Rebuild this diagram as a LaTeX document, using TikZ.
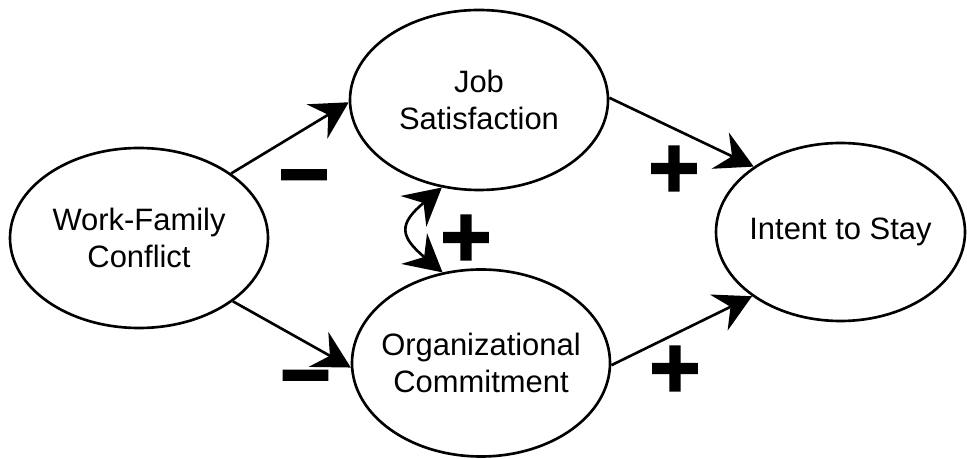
\documentclass[tikz,border=0pt]{standalone}
\usepackage{fontspec}
\setmainfont{Liberation Sans}
\newfontfamily\signfont[FakeBold=2]{Liberation Sans Bold}
\usepackage{tikz}
\usetikzlibrary{positioning,shapes.geometric,arrows.meta}

\begin{document}
\begin{tikzpicture}[
    >={Stealth[length=0.74cm, width=0.8cm, inset=0.26cm]},
    construct/.style={ellipse, draw, line width=1.5pt, minimum width=5.16cm, minimum height=3.6cm, inner xsep=-0.6cm, inner ysep=0pt, align=center, font=\fontsize{17.6}{21}\selectfont},
    link/.style={->, line width=1.5pt},
    sign/.style={inner sep=0pt, font=\signfont\fontsize{50}{50}\selectfont}
]
    \useasboundingbox (0,0) rectangle (19.34,9.18);

    % Constructs
    \node[construct] (wfc) at (2.78, 4.42) {Work-Family\\Conflict};
    \node[construct] (js) at (9.58, 7.18) {Job\\Satisfaction};
    \node[construct, minimum height=3.74cm] (org) at (9.62, 1.92) {Organizational\\Commitment};
    \node[construct, minimum width=4.98cm, minimum height=3.56cm] (intent) at (16.81, 4.54) {Intent to Stay};

    % Paths
    \draw[link] (wfc.35) -- (js.181);
    \draw[link] (wfc.-34) -- (org.182);
    \draw[link] (js.1) -- (intent.143);
    \draw[link] (org.-1) -- (intent.216);
    \draw[<->, line width=1.5pt] (js.247) to[out=220, in=140, looseness=1.7] (org.113);

    % Signs
    \node[sign] (s1) at (6.08, 5.44) {−};
    \node[sign] (s2) at (6.11, 1.43) {−};
    \node[sign] (s3) at (9.32, 4.36) {+};
    \node[sign] (s4) at (13.48, 5.74) {+};
    \node[sign] (s5) at (13.50, 1.74) {+};
\end{tikzpicture}
\end{document}
